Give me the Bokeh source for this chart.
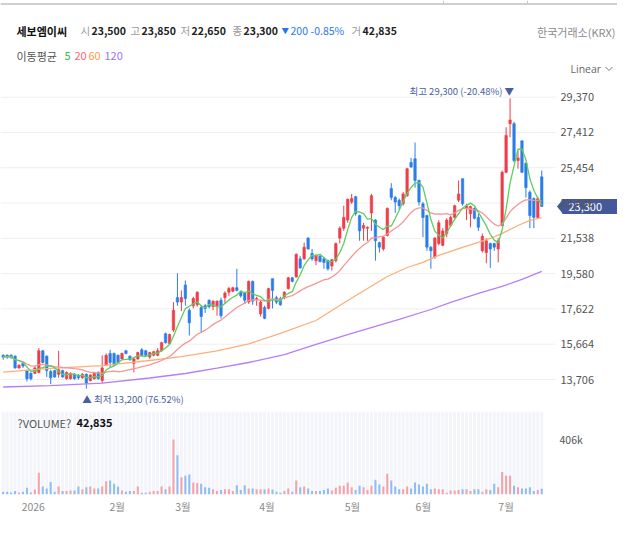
import pandas as pd
from bokeh.plotting import figure
from bokeh.models import Range1d, FixedTicker, Label, ColumnDataSource
from bokeh.layouts import column
from bokeh.embed import file_html
from bokeh.resources import INLINE
from bokeh.core.properties import value

FONT = "Noto Sans CJK KR"

# ---------------- data ----------------
opens = [15050, 15050, 15050, 15000, 14350, 14600, 14200, 14050, 14050, 14100,
         15300, 15000, 14150, 14200, 14000, 14200, 13750, 13750, 14000, 13950,
         13800, 14000, 13650, 13750, 14100, 13650, 14500, 15150, 15150, 15050,
         14850, 15300, 15000, 14600, 14850, 15350, 15300, 14950, 15050, 15050,
         15300, 16250, 15700, 16450, 18250, 18000, 18950, 17550, 17800, 17850,
         17700, 17800, 18100, 17750, 17800, 18100, 18250, 18550, 18600, 18800,
         18550, 18500, 18000, 19150, 18150, 17350, 17700, 17650, 19300, 18250,
         18200, 18250, 18750, 19350, 19400, 20400, 20400, 21550, 20700, 20300,
         20550, 20400, 20300, 20000, 20300, 21550, 22100, 22550, 23550, 23850,
         22800, 22100, 22100, 22950, 22550, 21300, 20950, 21700, 24300, 23800,
         23650, 23450, 23900, 25750, 25950, 24750, 23450, 22800, 21050, 20500,
         21250, 21150, 21800, 22250, 22700, 23650, 24850, 23200, 22900, 23200,
         22700, 20850, 20750, 21250, 21250, 20950, 22250, 25200, 27900, 27900,
         25850, 26950, 25700, 24100, 23750, 22700, 24950]
highs = [15100, 15100, 15100, 15050, 14550, 14650, 14250, 14100, 14450, 15450,
         15350, 15050, 14250, 14250, 15300, 14250, 14150, 14100, 14050, 14000,
         14050, 14050, 14000, 14100, 14150, 15050, 15150, 15350, 15200, 15100,
         15200, 15350, 15050, 14950, 15250, 15450, 15350, 15250, 15300, 15450,
         15800, 16300, 16250, 18000, 19600, 18650, 19200, 17650, 18300, 18600,
         17800, 17900, 18150, 18100, 18100, 18250, 18600, 18850, 18850, 19850,
         18650, 18550, 19200, 19200, 18300, 18100, 17800, 18800, 19300, 18350,
         18300, 18600, 19400, 19400, 20700, 20550, 21300, 21600, 20950, 20650,
         20600, 20500, 20350, 20400, 21300, 22200, 23350, 23750, 24000, 23900,
         22850, 22400, 22200, 24000, 22600, 21350, 21650, 23250, 24600, 23900,
         23750, 24100, 25450, 26000, 26850, 24800, 23550, 22850, 21100, 21600,
         22550, 22100, 22650, 22800, 23400, 24750, 24850, 23450, 23350, 23250,
         22900, 21800, 21550, 21300, 21300, 21550, 25300, 27700, 29300, 28000,
         26400, 26950, 25750, 24200, 23800, 23850, 25300]
lows = [14800, 14850, 14850, 14300, 14300, 14350, 13600, 13650, 14000, 14050,
        14600, 13850, 13450, 13800, 13800, 13800, 13700, 13700, 13700, 13700,
        13750, 13200, 13600, 13700, 13700, 13500, 14450, 14350, 14450, 14600,
        14800, 15100, 14750, 14100, 14800, 15000, 15000, 14850, 15000, 15000,
        15250, 15700, 15650, 16350, 17800, 17500, 17800, 16150, 17650, 17750,
        16300, 17400, 17650, 17550, 17250, 17100, 17900, 18350, 18550, 18600,
        18250, 17900, 17900, 17850, 17800, 17200, 17050, 17600, 17650, 17900,
        17800, 18150, 18700, 19100, 19350, 19850, 20350, 20900, 20300, 20050,
        20200, 19850, 19750, 19750, 20200, 21250, 21950, 22400, 23450, 22800,
        21400, 21400, 21400, 21950, 20300, 20750, 20850, 21650, 23650, 22950,
        23100, 23350, 23850, 25450, 24350, 23350, 21600, 20850, 19850, 20400,
        21150, 21100, 21600, 22200, 22650, 23550, 23350, 22550, 22150, 22600,
        21950, 20750, 20150, 19900, 20850, 20200, 22200, 25150, 27150, 25750,
        25400, 25150, 23800, 22100, 22100, 22650, 23300]
closes = [14950, 15000, 14950, 14350, 14500, 14450, 13750, 13750, 14350, 15300,
          14650, 14200, 13800, 13850, 14250, 13850, 14100, 14050, 13750, 13800,
          14000, 13500, 13950, 14050, 13750, 14350, 15050, 14650, 14500, 14650,
          15150, 15150, 14800, 14850, 15200, 15050, 15050, 15200, 15250, 15300,
          15750, 15750, 16200, 17550, 18000, 18250, 18200, 16850, 18200, 18550,
          17200, 17650, 17750, 18050, 18050, 17250, 18500, 18750, 18800, 18650,
          18350, 18100, 19150, 18050, 18200, 18000, 17100, 18750, 18650, 18000,
          17850, 18550, 19350, 19150, 20650, 19900, 21050, 20950, 20400, 20600,
          20250, 20200, 19850, 20350, 21250, 22100, 22700, 23700, 23750, 22900,
          21950, 22250, 22150, 23900, 21400, 21050, 21600, 23200, 23800, 23550,
          23350, 24000, 25400, 25500, 24750, 23550, 22700, 21050, 20850, 21550,
          22400, 21950, 22550, 22700, 23350, 24000, 23450, 23350, 23300, 22650,
          22150, 21650, 21400, 20950, 21050, 21400, 25200, 27250, 28100, 25850,
          26000, 25200, 24350, 22800, 22700, 23750, 23300]
volumes = [20000, 20000, 15000, 25000, 15000, 20000, 50000, 15000, 37000, 160000,
           59000, 44000, 93000, 20000, 59000, 25000, 25000, 30000, 30000, 59000,
           39000, 54000, 59000, 44000, 44000, 59000, 98000, 103000, 79000, 59000,
           30000, 20000, 25000, 25000, 59000, 12000, 12000, 20000, 25000, 25000,
           59000, 39000, 59000, 406000, 290000, 128000, 138000, 148000, 89000, 84000,
           79000, 54000, 49000, 39000, 25000, 34000, 39000, 39000, 25000, 69000,
           34000, 69000, 44000, 44000, 39000, 39000, 39000, 44000, 37000, 20000,
           12000, 25000, 44000, 20000, 103000, 54000, 59000, 44000, 25000, 25000,
           25000, 34000, 44000, 30000, 49000, 64000, 64000, 89000, 54000, 34000,
           64000, 54000, 34000, 64000, 108000, 74000, 59000, 153000, 103000, 59000,
           39000, 39000, 59000, 44000, 89000, 74000, 59000, 79000, 39000, 44000,
           39000, 39000, 12000, 30000, 30000, 34000, 39000, 39000, 25000, 39000,
           39000, 20000, 39000, 34000, 79000, 54000, 167000, 138000, 138000, 64000,
           54000, 44000, 44000, 54000, 25000, 34000, 42835]

ma60_idx = [0, 12, 25, 37, 45, 54, 62, 70, 79, 87, 97, 102, 106, 110, 115, 119, 123, 126, 130, 133, 136]
ma60_val = [14120, 14320, 14480, 14760, 14980, 15290, 15680, 16260, 16980, 18090, 19420,
            19920, 20200, 20590, 20970, 21250, 21530, 21810, 22250, 22530, 22690]
ma120_idx = [0, 12, 25, 37, 46, 54, 62, 71, 79, 88, 100, 108, 113, 120, 126, 131, 136]
ma120_val = [13290, 13370, 13510, 13790, 14040, 14340, 14650, 15090, 15650, 16260, 17040,
             17590, 17980, 18480, 18870, 19260, 19700]

price_ticks = [13706, 15664, 17622, 19580, 21538, 23496, 25454, 27412, 29370]
month_pos = [7.6, 28.8, 45.4, 66.6, 88.2, 106.1, 127.0]
month_labels = ["2026", "2월", "3월", "4월", "5월", "6월", "7월"]
vol_ticks = [406000]
vol_tick_labels = ["406k"]

stock_name = "세보엠이씨"
quote_keys = ["시", "고", "저", "종"]
quote_vals = ["23,500", "23,850", "22,650", "23,300"]
change_text = ["▼", "200", "-0.85%"]
volume_key, volume_val = "거", "42,835"
exchange = "한국거래소(KRX)"
ma_periods = ["5", "20", "60", "120"]

# ---------------- styles / layout ----------------
UP, DOWN = "#ef3d49", "#2b7de9"
VUP, VDOWN = "#f5a3a9", "#90bef4"
MA_COLORS = ["#5ccf5c", "#f59696", "#fbb07b", "#b67ef5"]
MA_TEXT = ["#35c04a", "#ff6470", "#ff9a45", "#a06ffb"]
BOX = "#45599a"
W = 617               # every frame spans the full width
PLOT_RIGHT = 545      # right end of the candle area (px)
SPACING = 3.96        # px per trading day
HEAD = 85
PRICE_H = 320
X0 = -0.68
XR = Range1d(X0, X0 + W / SPACING)
YR = Range1d(12264, 30017)
PX_PER_WON = PRICE_H / (YR.end - YR.start)


def px2x(px):
    return XR.start + px / SPACING


def dpx2y(dpx):
    return dpx / PX_PER_WON


n = len(closes)
idx = list(range(n))
df = pd.DataFrame(dict(x=idx, open=opens, high=highs, low=lows, close=closes, volume=volumes))
df["top"] = df[["open", "close"]].max(axis=1)
df["bottom"] = df[["open", "close"]].min(axis=1)
up = df["close"] >= df["open"]
df["color"] = [UP if u else DOWN for u in up]
df["vcolor"] = [VUP if u else VDOWN for u in up]
df["ma5"] = df["close"].rolling(5, min_periods=1).mean()
df["ma20"] = df["close"].rolling(20, min_periods=1).mean()
src = ColumnDataSource(df)

# ---------------- header (pixel coordinates) ----------------
hdr = figure(width=W, height=HEAD, x_range=Range1d(0, W), y_range=Range1d(HEAD, 0),
             x_axis_location=None, y_axis_location=None, toolbar_location=None,
             output_backend="svg", min_border=0)
hdr.outline_line_color = None
hdr.grid.visible = False


def htext(x, y, s, color="#222", size="10.5px", bold=False, align="left", font=FONT):
    hdr.text(x=[x], y=[y], text=[s], text_color=color, text_font=value(font),
             text_font_size=size, text_font_style="bold" if bold else "normal",
             text_align=align, text_baseline="middle")


hdr.line(x=[0, W], y=[3.5, 3.5], line_color="#a0a0a0", line_width=1)
hdr.segment(x0=[443, 527], y0=[0, 0], x1=[443, 527], y1=[3.5, 3.5], line_color="#c8c8c8", line_width=1)

r1 = 30
htext(16, r1, stock_name, "#111", "11px", bold=True)
for k, v, x in zip(quote_keys, quote_vals, [80, 130, 180, 232]):
    htext(x, r1, k, "#9a9a9a", "10.5px")
    htext(x + 11, r1, v, "#222", "10.5px", bold=True)
htext(281, r1, change_text[0], "#1f78f0", "7.5px")
htext(290, r1, change_text[1], "#1f78f0", "10.5px")
htext(310, r1, change_text[2], "#1f78f0", "10.5px")
htext(351, r1, volume_key, "#9a9a9a", "10.5px")
htext(362, r1, volume_val, "#222", "10.5px", bold=True)
htext(615, r1 + 1, exchange, "#8a8a8a", "11px", align="right")

r2 = 55
htext(16, r2, "이동평균", "#555", "11px")
for s, c, x in zip(ma_periods, MA_TEXT, [64, 74, 88, 104]):
    htext(x, r2, s, c, "11px")
htext(570, 68, "Linear", "#666", "10.5px", font="Open Sans")
hdr.line(x=[605, 608.5, 612], y=[66.5, 70, 66.5], line_color="#777", line_width=1)

# ---------------- price pane ----------------
p = figure(width=W, height=PRICE_H, x_range=XR, y_range=YR,
           x_axis_location=None, y_axis_location="right", toolbar_location=None,
           output_backend="svg", min_border=0)
p.outline_line_color = None
p.grid.visible = False
p.yaxis.fixed_location = px2x(PLOT_RIGHT)
p.yaxis.ticker = FixedTicker(ticks=price_ticks)
p.yaxis.major_label_overrides = {t: f"{t:,}" for t in price_ticks}
p.yaxis.axis_line_color = None
p.yaxis.major_tick_line_color = None
p.yaxis.major_tick_out = 0
p.yaxis.minor_tick_line_color = None
p.yaxis.major_label_standoff = 15
p.yaxis.major_label_text_font = FONT
p.yaxis.major_label_text_font_size = "11px"
p.yaxis.major_label_text_color = "#555"

# horizontal grid lines at the axis ticks, stopping before the labels
p.segment(x0=[XR.start] * len(price_ticks), y0=price_ticks,
          x1=[px2x(555)] * len(price_ticks), y1=price_ticks, line_color="#efefef", line_width=1)

p.segment(x0="x", y0="low", x1="x", y1="high", line_color="color", line_width=1, source=src)
p.vbar(x="x", width=0.62, top="top", bottom="bottom", fill_color="color",
       line_color="color", line_width=0.6, source=src)

p.line(ma120_idx, ma120_val, line_color=MA_COLORS[3], line_width=1.3)
p.line(ma60_idx, ma60_val, line_color=MA_COLORS[2], line_width=1.3)
p.line(x="x", y="ma20", line_color=MA_COLORS[1], line_width=1.3, source=src)
p.line(x="x", y="ma5", line_color=MA_COLORS[0], line_width=1.3, source=src)

last = closes[-1]
hi_i = max(range(n), key=lambda i: highs[i])
lo_i = min(range(n), key=lambda i: lows[i])
hi, lo = highs[hi_i], lows[lo_i]
LBL = "#4b5fa0"
p.add_layout(Label(x=hi_i, y=hi, text=f"최고 {hi:,} ({(last / hi - 1) * 100:.2f}%) ▼",
                   text_align="right", text_baseline="bottom", x_offset=4, y_offset=0,
                   text_font=FONT, text_font_size="9.5px", text_color=LBL))
p.add_layout(Label(x=lo_i, y=lo, text=f"▲ 최저 {lo:,} ({(last / lo - 1) * 100:.2f}%)",
                   text_align="left", text_baseline="top", x_offset=-4, y_offset=-3,
                   text_font=FONT, text_font_size="9.5px", text_color=LBL))

# current-price marker on the price axis
half = dpx2y(7.5)
p.quad(left=[px2x(562)], right=[px2x(630)], bottom=[last - half], top=[last + half],
       fill_color=BOX, line_color=None)
p.patch(x=[px2x(556.5), px2x(562.5), px2x(562.5)], y=[last, last + half, last - half],
        fill_color=BOX, line_color=None)
p.text(x=[px2x(568)], y=[last], text=[f"{last:,}"], text_color="white",
       text_font=value(FONT), text_font_size="11px", text_align="left", text_baseline="middle")

# ---------------- volume pane ----------------
VTOP = 612700
v = figure(width=W, height=120, x_range=XR, y_range=Range1d(0, VTOP),
           x_axis_location="below", y_axis_location="right", toolbar_location=None,
           output_backend="svg", min_border_left=0, min_border_right=0,
           min_border_top=6, min_border_bottom=31)
v.outline_line_color = None
v.grid.visible = False
v.vbar(x=idx, width=0.78, top=VTOP, bottom=0, fill_color="#f3f5fa", line_color=None)
v.vbar(x="x", width=0.52, top="volume", bottom=0, fill_color="vcolor", line_color=None, source=src)

v.yaxis.fixed_location = px2x(PLOT_RIGHT)
v.xaxis.ticker = FixedTicker(ticks=month_pos)
v.xaxis.major_label_overrides = dict(zip(month_pos, month_labels))
v.yaxis.ticker = FixedTicker(ticks=vol_ticks)
v.yaxis.major_label_overrides = dict(zip(vol_ticks, vol_tick_labels))
for ax in (v.xaxis, v.yaxis):
    ax.axis_line_color = None
    ax.major_tick_line_color = None
    ax.major_tick_out = 0
    ax.minor_tick_line_color = None
    ax.major_label_text_font = FONT
    ax.major_label_text_font_size = "10.5px"
v.xaxis.major_label_text_color = "#8a8a8a"
v.xaxis.major_label_standoff = 4
v.yaxis.major_label_text_color = "#555"
v.yaxis.major_label_standoff = 14

vol_y = VTOP * (1 - 11 / 83)
v.add_layout(Label(x=px2x(17), y=vol_y, text="?VOLUME?", text_font=FONT, text_font_size="11px",
                   text_color="#555", text_baseline="middle"))
v.add_layout(Label(x=px2x(76), y=vol_y, text=f"{volumes[-1]:,}", text_font=FONT,
                   text_font_size="11px", text_font_style="bold", text_color="#111",
                   text_baseline="middle"))

layout = column(hdr, p, v, spacing=0)
open("out.html", "w").write(file_html(layout, INLINE))
